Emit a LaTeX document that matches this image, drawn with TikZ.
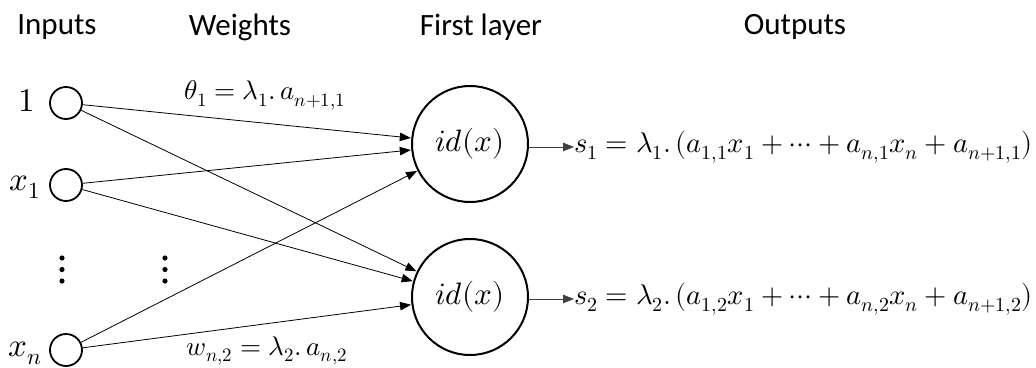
\documentclass[tikz,border=0pt]{standalone}
\usepackage{fontspec}
\setmainfont{Carlito}
\usepackage{unicode-math}
\setmathfont{Latin Modern Math}
\usetikzlibrary{arrows.meta}
\begin{document}
\begin{tikzpicture}[x=1pt,y=-1pt,
  hdr/.style={font=\fontsize{31}{36}\selectfont, anchor=center},
  mlab/.style={font=\fontsize{27}{32}\selectfont, inner sep=0pt},
  olab/.style={font=\fontsize{28.5}{34}\selectfont, inner sep=0pt, anchor=west},
  inlab/.style={font=\fontsize{33}{38}\selectfont, inner sep=0pt},
  incirc/.style={draw, circle, line width=1.8pt, minimum size=32pt, inner sep=0pt},
  neuron/.style={draw, circle, line width=2pt, minimum size=116pt, inner sep=0pt, font=\fontsize{31}{36}\selectfont},
  conn/.style={line width=0.8pt, -{Triangle[length=11pt,width=8.5pt]}, shorten >=0.5pt},
  outc/.style={line width=0.8pt, draw=black!75, -{Triangle[length=11pt,width=8.5pt]}}
]
\useasboundingbox (0,0) rectangle (1036,367);
% headers
\node[hdr] (hin) at (57,27) {Inputs};
\node[hdr] (hw) at (240,27) {Weights};
\node[hdr] (hfl) at (481,27) {First layer};
\node[hdr] (hout) at (795,27) {Outputs};
% input circles
\node[incirc] (i1) at (66,103) {};
\node[incirc] (ix1) at (66,185) {};
\node[incirc] (ixn) at (66,350) {};
\node[inlab] (l1) at (27,101) {$1$};
\node[inlab] (lx1) at (25,187) {$x_1$};
\node[inlab] (lxn) at (25,353) {$x_n$};
% dots
\foreach \xx in {62,165}{
  \foreach \yy in {258,269.5,281}{
    \fill (\xx,\yy) circle (2.6pt);
  }
}
% neurons
\node[neuron] (n1) at (470,144) {$id(x)$};
\node[neuron] (n2) at (470,297) {$id(x)$};
% connections
\foreach \s in {i1,ix1,ixn}{
  \draw[conn] (\s) -- (n1);
  \draw[conn] (\s) -- (n2);
}
% weight labels
\node[mlab] (wt1) at (265,95) {$\theta_1=\lambda_1.\,a_{n+1,1}$};
\node[mlab] (wt2) at (267,351) {$w_{n,2}=\lambda_2.\,a_{n,2}$};
% outputs
\node[olab] (s1) at (574,147) {$s_1 = \lambda_1.\,(a_{1,1}x_1+\cdots+a_{n,1}x_n+a_{n+1,1})$};
\node[olab] (s2) at (574,299) {$s_2 = \lambda_2.\,(a_{1,2}x_1+\cdots+a_{n,2}x_n+a_{n+1,2})$};
\draw[outc] (n1.east |- s1.west) -- (s1.west);
\draw[outc] (n2.east |- s2.west) -- (s2.west);
\end{tikzpicture}
\end{document}
